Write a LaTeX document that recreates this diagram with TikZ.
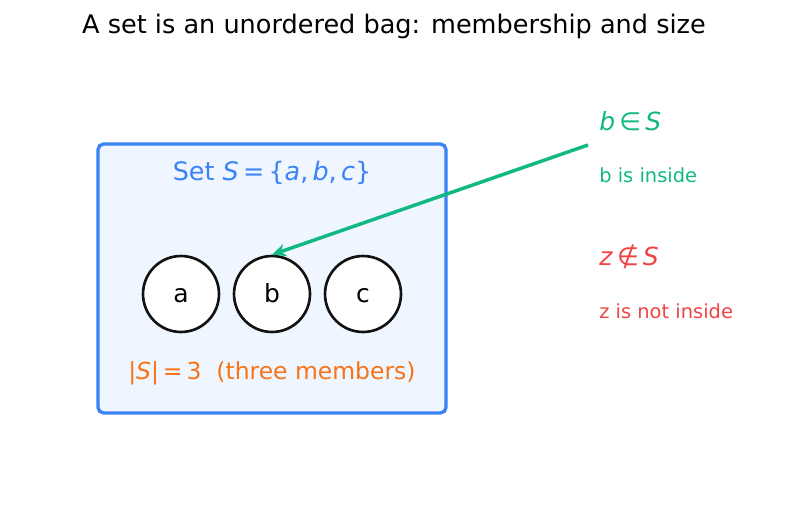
\documentclass[tikz,border=0pt]{standalone}
\usepackage{fontspec}
\setmainfont{DejaVu Sans}
\usetikzlibrary{arrows.meta}
\definecolor{setblue}{HTML}{3B82F6}
\definecolor{setfill}{HTML}{EFF6FF}
\definecolor{ingreen}{HTML}{10B981}
\definecolor{outred}{HTML}{EF4444}
\definecolor{sizeorange}{HTML}{F97316}
\newcommand{\mi}[1]{\textit{#1}}
\begin{document}
\begin{tikzpicture}[x=0.72pt, y=-0.72pt,
  member/.style={circle, draw=black!93, line width=1.9pt, fill=white, minimum size=54.7pt, inner sep=0pt, text height=11.6pt, text depth=0pt, font=\fontsize{18}{22}\selectfont},
  side/.style={anchor=west, inner sep=0pt}]
\useasboundingbox (0,0) rectangle (787,512);
\node (title) at (394,26) {\fontsize{18.4}{22}\selectfont A set is an unordered bag: membership and size};
\draw[setblue, fill=setfill, line width=2.4pt, rounded corners=4pt] (98,144) rectangle (446,413);
\node[setblue] (setlabel) at (272,173) {\fontsize{18.3}{22}\selectfont Set \mi{S}\,=\,\{\mi{a},\,\mi{b},\,\mi{c}\}};
\node[member] (a) at (181,294) {a};
\node[member] (b) at (272,294) {b};
\node[member] (c) at (363,294) {c};
\node[sizeorange] (size) at (272,373) {\fontsize{16.9}{20}\selectfont |\mi{S}|\,=\,3\ \ (three members)};
\node[side, ingreen] (inlabel) at (599,121) {\fontsize{18}{22}\selectfont \mi{b}\,∈\,\mi{S}};
\node[side, ingreen] (intext) at (599,175) {\fontsize{14}{17}\selectfont b is inside};
\node[side, outred] (outlabel) at (599,257) {\fontsize{18}{22}\selectfont \mi{z}\,∉\,\mi{S}};
\node[side, outred] (outtext) at (599,311) {\fontsize{14}{17}\selectfont z is not inside};
\coordinate (from) at (588,145);
\draw[ingreen, line width=2.5pt, -{Stealth[length=10pt, width=9pt]}] (from) -- (b.north);
\end{tikzpicture}
\end{document}
